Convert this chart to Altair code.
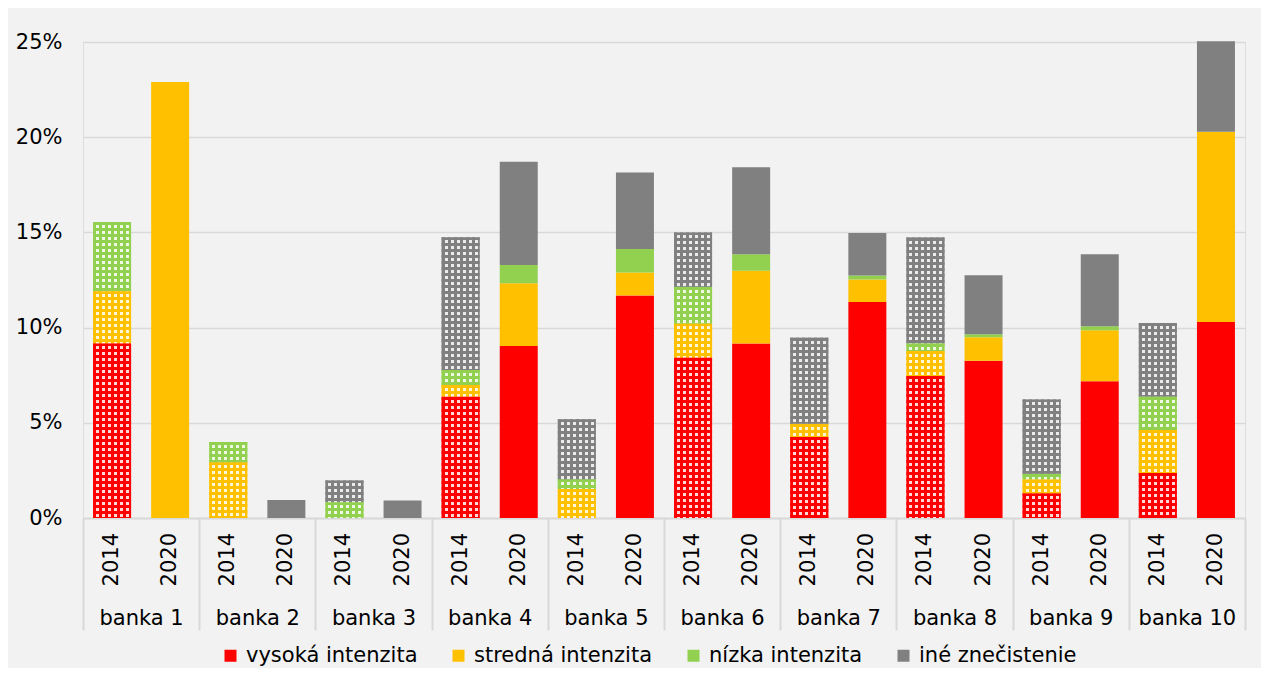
import altair as alt
import pandas as pd

# ---------------- data ----------------
banks = ["banka 1", "banka 2", "banka 3", "banka 4", "banka 5",
         "banka 6", "banka 7", "banka 8", "banka 9", "banka 10"]
years = ["2014", "2020"]
categories = ["vysoká intenzita", "stredná intenzita", "nízka intenzita", "iné znečistenie"]
colors = ["#FF0000", "#FFC000", "#92D050", "#808080"]

# values in %, order: banka1-2014, banka1-2020, banka2-2014, ...
vysoka = [9.17, 0, 0, 0, 0, 0, 6.37, 9.03, 0, 11.68,
          8.42, 9.17, 4.25, 11.35, 7.46, 8.26, 1.30, 7.18, 2.36, 10.29]
stredna = [2.74, 22.90, 2.93, 0, 0, 0, 0.61, 3.30, 1.52, 1.22,
           1.80, 3.82, 0.70, 1.17, 1.31, 1.23, 0.72, 2.68, 2.26, 10.00]
nizka = [3.63, 0, 1.06, 0, 0.83, 0, 0.79, 0.96, 0.51, 1.23,
         1.93, 0.86, 0, 0.21, 0.39, 0.16, 0.30, 0.21, 1.76, 0]
ine = [0, 0, 0, 0.94, 1.14, 0.92, 6.97, 5.42, 3.15, 4.01,
       2.85, 4.57, 4.52, 2.24, 5.57, 3.10, 3.91, 3.78, 3.86, 4.75]
y_ticks = [0, 5, 10, 15, 20, 25]

series = [vysoka, stredna, nizka, ine]
rows = []
for bi, b in enumerate(banks):
    for yi, yr in enumerate(years):
        idx = 2 * bi + yi
        for ci, cat in enumerate(categories):
            rows.append({"bank": b, "year": yr, "cat": cat, "order": ci,
                         "value": series[ci][idx]})
df = pd.DataFrame(rows)
labels_df = pd.DataFrame([{"bank": b, "year": yr} for b in banks for yr in years])

# ---------------- layout ----------------
PLOT_W, PLOT_H = 1162, 476
FONT = "DejaVu Sans"
FS = 21

x_enc = alt.X("bank:N", sort=banks,
              scale=alt.Scale(paddingInner=0, paddingOuter=0),
              axis=alt.Axis(title=None, tickBand="extent", tickSize=112,
                            tickColor="#D9D9D9", tickWidth=2,
                            domainColor="#D9D9D9", domainWidth=2,
                            labelAngle=0, labelFontSize=FS, labelFont=FONT,
                            labelBaseline="middle", labelPadding=-12,
                            labelColor="#000000", grid=False))
xo_enc = alt.XOffset("year:N", sort=years,
                     scale=alt.Scale(paddingInner=0.346, paddingOuter=0.173))
y_enc = alt.Y("v0:Q", scale=alt.Scale(domain=[0, 25], nice=False),
              axis=alt.Axis(title=None, values=y_ticks,
                            labelExpr="datum.value + '%'",
                            ticks=False, domain=False,
                            gridColor="#D9D9D9", gridWidth=1.5,
                            labelFontSize=FS, labelFont=FONT,
                            labelPadding=21, labelColor="#000000"))
y2_enc = alt.Y2("v1:Q")

cat_js = "[" + ",".join("'%s'" % c for c in categories) + "]"
col_js = "[" + ",".join("'%s'" % c for c in colors) + "]"

base = (alt.Chart(df)
        .transform_filter("datum.value > 0")
        .transform_stack(stack="value", groupby=["bank", "year"],
                         as_=["v0", "v1"], sort=[alt.SortField("order")])
        .transform_calculate(hex=f"{col_js}[indexof({cat_js}, datum.cat)]"))

bars = base.mark_bar().encode(
    x=x_enc, xOffset=xo_enc, y=y_enc, y2=y2_enc,
    color=alt.Color("cat:N", sort=categories,
                    scale=alt.Scale(domain=categories, range=colors),
                    legend=alt.Legend(title=None, orient="none",
                                      legendX=137, legendY=603,
                                      direction="horizontal", columns=4,
                                      symbolType="square", symbolSize=144,
                                      symbolStrokeWidth=0, symbolOpacity=1,
                                      labelFontSize=FS, labelFont=FONT,
                                      labelLimit=500,
                                      labelColor="#000000", labelOffset=5,
                                      columnPadding=30)),
)

# ---- pattern for the 2014 bars: coloured crosses on a light background ----
clear = "'rgba(255,255,255,0)'"
PERIOD = 6.0
ARM = 3.0
BAR_W = 38.0


def stops_expr(n_periods):
    parts = []
    for k in range(n_periods):
        a = k / n_periods
        b = (k + ARM / PERIOD) / n_periods
        c = (k + 1) / n_periods
        parts += ["{'offset':%.4f,'color':datum.hex}" % a,
                  "{'offset':%.4f,'color':datum.hex}" % b,
                  "{'offset':%.4f,'color':%s}" % (b, clear),
                  "{'offset':%.4f,'color':%s}" % (c, clear)]
    return ",".join(parts)


NX = 10
vexpr = ("{'gradient':'linear','x1':0,'y1':0,'x2':%.4f,'y2':0,'stops':[%s]}"
         % (NX * PERIOD / BAR_W, stops_expr(NX)))
NY = 40
hexpr = ("{'gradient':'linear','x1':0,'y1':0,'x2':0,"
         "'y2':%.1f/max(0.5,(datum.v1-datum.v0)*%.4f),'stops':[%s]}"
         % (NY * PERIOD, PLOT_H / 25.0, stops_expr(NY)))

b2014 = base.transform_filter("datum.year == '2014'")
light = b2014.mark_bar(fill="#FFFFFF", opacity=0.85).encode(
    x=x_enc, xOffset=xo_enc, y=y_enc, y2=y2_enc)
vpat = b2014.mark_bar(fill=alt.ExprRef(expr=vexpr)).encode(
    x=x_enc, xOffset=xo_enc, y=y_enc, y2=y2_enc)
hpat = b2014.mark_bar(fill=alt.ExprRef(expr=hexpr)).encode(
    x=x_enc, xOffset=xo_enc, y=y_enc, y2=y2_enc)

year_text = alt.Chart(labels_df).mark_text(
    angle=270, align="right", baseline="middle", fontSize=FS, font=FONT,
    color="#000000").encode(x=x_enc, xOffset=xo_enc, y=alt.value(PLOT_H + 15),
                            text="year:N")

chart = (alt.layer(bars, light, vpat, hpat, year_text)
         .properties(width=PLOT_W, height=PLOT_H,
                     autosize=alt.AutoSizeParams(type="none"),
                     padding={"left": 75, "top": 34, "right": 16, "bottom": 150},
                     background="#F2F2F2")
         .configure_view(stroke=None)
         .configure(font=FONT))

chart.save("out.html", embed_options={"renderer": "svg", "actions": False})
